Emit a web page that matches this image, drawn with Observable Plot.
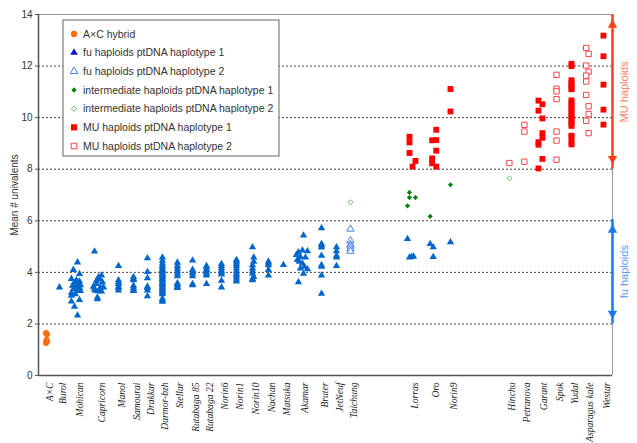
<!DOCTYPE html>
<html><head><meta charset="utf-8">
<script src="https://cdn.jsdelivr.net/npm/d3@7"></script>
<script src="https://cdn.jsdelivr.net/npm/@observablehq/plot@0.6"></script>
<style>body{margin:0;background:#fff} svg{display:block}</style>
</head><body><div id="chart"></div>
<script>
// ---- categories (x positions, in slot units) ----
const categories = ["A×C","Burol","Mohican","Capricorn","Manol","Samourai","Drakkar","Darmor-bzh","Stellar","Rutabaga 85","Rutabaga 22","Norin6","Norin1","Norin10","Nachan","Matsuka","Akamar","Bruter","JetNeuf","Taichung","Lorras","Oro","Norin9","Hinchu","Petranova","Garant","Spok","Yudal","Asparagus kale","Westar"];
const categoryPos = [0.52,1.37,2.48,3.92,5.23,6.21,7.12,8.10,9.08,10.07,10.98,11.96,12.94,13.99,15.03,16.01,17.25,18.50,19.48,20.39,24.38,25.80,26.93,30.78,31.76,32.81,33.86,34.84,35.88,36.93];
const yTicks = [0,2,4,6,8,10,12,14];
const muRange = [8.2, 13.8];
const fuRange = [2.2, 5.85];

// ---- series: [category, mean # univalents, x jitter] ----
const acHybrid = [["A×C",1.65,-0.03],["A×C",1.60,0.03],["A×C",1.38,0],["A×C",1.32,0.03],["A×C",1.26,-0.03]];
const fuHap1 = [
 ["Burol",3.42],
 ["Mohican",4.39,0.07],["Mohican",4.10,-0.2],["Mohican",3.94,0.2],["Mohican",3.75,-0.33],["Mohican",3.70,0],["Mohican",3.65,0.2],["Mohican",3.60,-0.13],["Mohican",3.55,0.13],["Mohican",3.50,0.26],["Mohican",3.48,-0.26],["Mohican",3.45,0],["Mohican",3.40,0.2],["Mohican",3.35,-0.2],["Mohican",3.30,0.07],["Mohican",3.28,0.26],["Mohican",3.20,-0.33],["Mohican",3.15,-0.07],["Mohican",3.10,-0.33],["Mohican",2.93,0.2],["Mohican",2.87,-0.33],["Mohican",2.67,-0.13],["Mohican",2.33,0.07],
 ["Capricorn",4.81,-0.26],["Capricorn",3.88,0.2],["Capricorn",3.81,0],["Capricorn",3.75,0.07],["Capricorn",3.68,-0.13],["Capricorn",3.62,0.26],["Capricorn",3.55,-0.13],["Capricorn",3.45,-0.33],["Capricorn",3.42,0.13],["Capricorn",3.42,0.33],["Capricorn",3.35,-0.26],["Capricorn",3.29,-0.2],["Capricorn",3.27,0],["Capricorn",3.26,0.2],["Capricorn",3.03,-0.07],["Capricorn",2.96,-0.07],
 ["Manol",4.25],["Manol",3.70],["Manol",3.62],["Manol",3.55],["Manol",3.45],["Manol",3.40],["Manol",3.30],
 ["Samourai",3.82],["Samourai",3.75],["Samourai",3.70],["Samourai",3.48],["Samourai",3.40],["Samourai",3.32],["Samourai",3.28],
 ["Drakkar",4.55],["Drakkar",4.02],["Drakkar",3.78],["Drakkar",3.45],["Drakkar",3.40],["Drakkar",3.30],["Drakkar",3.08],
 ["Darmor-bzh",4.58],["Darmor-bzh",4.45],["Darmor-bzh",4.35],["Darmor-bzh",4.25],["Darmor-bzh",4.18],["Darmor-bzh",4.10],["Darmor-bzh",4.05],["Darmor-bzh",4.00],["Darmor-bzh",3.95],["Darmor-bzh",3.90],["Darmor-bzh",3.85],["Darmor-bzh",3.80],["Darmor-bzh",3.75],["Darmor-bzh",3.70],["Darmor-bzh",3.65],["Darmor-bzh",3.60],["Darmor-bzh",3.55],["Darmor-bzh",3.50],["Darmor-bzh",3.45],["Darmor-bzh",3.40],["Darmor-bzh",3.35],["Darmor-bzh",3.30],["Darmor-bzh",3.25],["Darmor-bzh",3.20],["Darmor-bzh",3.15],["Darmor-bzh",2.98],["Darmor-bzh",2.92],["Darmor-bzh",2.86],
 ["Stellar",4.38],["Stellar",4.25],["Stellar",4.15],["Stellar",4.05],["Stellar",3.95],["Stellar",3.85],["Stellar",3.58],["Stellar",3.52],["Stellar",3.45],["Stellar",3.40],
 ["Rutabaga 85",4.46],["Rutabaga 85",4.10],["Rutabaga 85",4.02],["Rutabaga 85",3.95],["Rutabaga 85",3.85],["Rutabaga 85",3.55],["Rutabaga 85",3.50],
 ["Rutabaga 22",4.25],["Rutabaga 22",4.18],["Rutabaga 22",4.10],["Rutabaga 22",4.02],["Rutabaga 22",3.95],["Rutabaga 22",3.88],["Rutabaga 22",3.55],
 ["Norin6",4.33],["Norin6",4.25],["Norin6",4.15],["Norin6",4.07],["Norin6",4.00],["Norin6",3.92],["Norin6",3.68],["Norin6",3.42],
 ["Norin1",4.48],["Norin1",4.42],["Norin1",4.33],["Norin1",4.25],["Norin1",4.15],["Norin1",4.05],["Norin1",3.95],["Norin1",3.88],["Norin1",3.80],["Norin1",3.72],["Norin1",3.65],
 ["Norin10",4.98],["Norin10",4.58,0.08],["Norin10",4.42,0.08],["Norin10",4.28],["Norin10",4.15],["Norin10",4.05],["Norin10",3.95],["Norin10",3.82,0.08],["Norin10",3.75],["Norin10",3.70],
 ["Nachan",4.42],["Nachan",4.35],["Nachan",4.28],["Nachan",4.10],["Nachan",3.88],
 ["Matsuka",4.29],
 ["Akamar",5.43,0.07],["Akamar",4.78,-0.26],["Akamar",4.85,0],["Akamar",4.82,0.33],["Akamar",4.68,-0.39],["Akamar",4.60,-0.13],["Akamar",4.58,0.2],["Akamar",4.48,-0.33],["Akamar",4.42,-0.2],["Akamar",4.35,0],["Akamar",4.22,0.13],["Akamar",4.15,-0.13],["Akamar",4.12,0.33],["Akamar",3.95,0.07],["Akamar",3.62,-0.26],
 ["Bruter",5.71],["Bruter",5.10],["Bruter",5.04],["Bruter",4.97],["Bruter",4.65],["Bruter",4.28],["Bruter",4.22],["Bruter",3.88],["Bruter",3.17],
 ["JetNeuf",4.98],["JetNeuf",4.82],["JetNeuf",4.65],["JetNeuf",4.58],["JetNeuf",4.25],
 ["Lorras",5.30,-0.26],["Lorras",4.58,-0.13],["Lorras",4.60,0],["Lorras",4.62,0.13],
 ["Oro",5.10,-0.2],["Oro",4.98,0],["Oro",4.60,0],
 ["Norin9",5.17]
];
const fuHap2 = [["Taichung",5.68],["Taichung",5.23],["Taichung",5.08],["Taichung",5.02],["Taichung",4.92],["Taichung",4.82]];
const interHap1 = [["Lorras",7.10,-0.13],["Lorras",6.90,-0.13],["Lorras",6.90,0.26],["Lorras",6.58,-0.26],["Oro",6.17,-0.2],["Norin9",7.40]];
const interHap2 = [["Taichung",6.72],["Hinchu",7.65]];
const muHap1 = [
 ["Lorras",9.26,-0.13],["Lorras",9.04,-0.13],["Lorras",8.63,-0.13],["Lorras",8.32,0.26],["Lorras",8.10,0.07],
 ["Oro",9.53,0.2],["Oro",9.12,-0.07],["Oro",9.13,0.2],["Oro",8.72,0.2],["Oro",8.42,-0.07],["Oro",8.23,-0.07],["Oro",8.10,0.2],
 ["Norin9",11.11],["Norin9",10.24],
 ["Garant",10.66,-0.13],["Garant",10.52,0.13],["Garant",10.27,-0.13],["Garant",9.97,0.13],["Garant",9.40,0.13],["Garant",9.22,0.13],["Garant",9.05,-0.13],["Garant",8.95,-0.13],["Garant",8.40,0.13],["Garant",8.03,-0.13],
 ["Yudal",12.09],["Yudal",12.0],["Yudal",11.45],["Yudal",11.35],["Yudal",11.25],["Yudal",11.15],["Yudal",11.1],["Yudal",10.67],["Yudal",10.57],["Yudal",10.47],["Yudal",10.37],["Yudal",10.27],["Yudal",10.17],["Yudal",10.07],["Yudal",9.97],["Yudal",9.87],["Yudal",9.77],["Yudal",9.68],["Yudal",9.3],["Yudal",9.25],["Yudal",9.04],["Yudal",8.96],
 ["Westar",13.18],["Westar",12.38],["Westar",11.28],["Westar",10.31],["Westar",9.73]
];
const muHap2 = [
 ["Hinchu",8.24],
 ["Petranova",9.72],["Petranova",9.46],["Petranova",8.29],
 ["Spok",11.66],["Spok",11.12],["Spok",11.02],["Spok",10.72],["Spok",9.46],["Spok",9.11],["Spok",8.37],
 ["Asparagus kale",12.70,-0.08],["Asparagus kale",12.47,0.08],["Asparagus kale",12.02,-0.08],["Asparagus kale",11.78,0.08],["Asparagus kale",11.63,-0.08],["Asparagus kale",11.40,-0.08],["Asparagus kale",10.88,-0.08],["Asparagus kale",10.44,0.08],["Asparagus kale",10.14,0.08],["Asparagus kale",9.88,-0.08],["Asparagus kale",9.40,0.08]
];
const legendLabels = ["A×C hybrid","fu haploids ptDNA haplotype 1","fu haploids ptDNA haplotype 2","intermediate haploids ptDNA haplotype 1","intermediate haploids ptDNA haplotype 2","MU haploids ptDNA haplotype 1","MU haploids ptDNA haplotype 2"];

// ---- build ----
const rows = arr => arr.map(([c,y,dx]) => ({cat:c, y, x: categoryPos[categories.indexOf(c)] + (dx||0)}));
const catRows = categories.map((name,i) => ({name, x: categoryPos[i]}));
const xDomain = [0, 37.52];
const xMax = xDomain[1];

const styles = [
  {symbol:"circle", r:3, fill:"#ff6a0d", stroke:"none", d3sym:d3.symbolCircle, legendFill:"#ff6a0d"},
  {symbol:"triangle", r:2.7, fill:"#0066cc", stroke:"none", d3sym:d3.symbolTriangle, legendFill:"#1010c8"},
  {symbol:"triangle", r:2.7, fill:"white", stroke:"#4a7ff0", d3sym:d3.symbolTriangle, legendFill:"white"},
  {symbol:"diamond2", r:2.3, fill:"#008000", stroke:"none", d3sym:d3.symbolDiamond2, legendFill:"#008000"},
  {symbol:"diamond2", r:2.3, fill:"white", stroke:"#66bb66", d3sym:d3.symbolDiamond2, legendFill:"white"},
  {symbol:"square", r:3.3, fill:"#ff0000", stroke:"none", d3sym:d3.symbolSquare, legendFill:"#ff0000"},
  {symbol:"square", r:3.0, fill:"white", stroke:"#ff4444", d3sym:d3.symbolSquare, legendFill:"white"}
];
const series = [acHybrid, fuHap1, fuHap2, interHap1, interHap2, muHap1, muHap2];

const muColor = "#ff4010", muText = "#ff8060", fuColor = "#1a75ff", fuText = "#5a9bf0";

const plot = Plot.plot({
  width: 637, height: 443,
  marginLeft: 38, marginRight: 25, marginTop: 14, marginBottom: 68,
  style: {fontFamily: "'Liberation Sans', Arial, sans-serif", fontSize: "10px", color: "#333", background: "white"},
  x: {domain: xDomain, axis: null},
  y: {domain: [0, 14]},
  marks: [
    Plot.gridY(yTicks.filter(t => t > 0 && t < 14), {stroke: "#444", strokeOpacity: 1, strokeDasharray: "2,2"}),
    Plot.ruleY([14], {stroke: "#999"}),
    Plot.ruleX([xMax], {stroke: "#999"}),
    Plot.ruleY([0], {stroke: "#555", strokeWidth: 1.5}),
    Plot.ruleX([xDomain[0]], {stroke: "#555", strokeWidth: 1.5}),
    Plot.axisY({ticks: yTicks, tickSize: 3, tickPadding: 3, label: "Mean # univalents", labelAnchor: "center", labelArrow: "none", labelOffset: 28, stroke: "#555", fill: "#333"}),
    Plot.text(catRows, {x: "x", frameAnchor: "bottom", text: "name", rotate: -90, textAnchor: "end", lineAnchor: "middle", dx: 3, dy: 7, fontStyle: "italic", fontFamily: "'Liberation Serif', serif", fontSize: 9.6, fill: "#222"}),
    ...series.map((s, i) => Plot.dot(rows(s), {x: "x", y: "y", symbol: styles[i].symbol, r: styles[i].r, fill: styles[i].fill, stroke: styles[i].stroke, strokeWidth: 1})),
    // range arrows
    Plot.ruleX([xMax], {y1: muRange[0], y2: muRange[1], stroke: muColor, strokeWidth: 2.5, insetTop: 5, insetBottom: 5}),
    Plot.dot([muRange[1]], {x: () => xMax, y: d => d, symbol: "triangle", r: 3.5, fill: muColor, dy: 5.4}),
    Plot.dot([muRange[0]], {x: () => xMax, y: d => d, symbol: "triangle", r: 3.5, fill: muColor, rotate: 180, dy: -5.4}),
    Plot.text(["MU haploids"], {x: () => xMax, y: () => (muRange[0] + muRange[1]) / 2, text: d => d, rotate: -90, dx: 12, fill: muText, fontSize: 11}),
    Plot.ruleX([xMax], {y1: fuRange[0], y2: fuRange[1], stroke: fuColor, strokeWidth: 2.5, insetTop: 5, insetBottom: 5}),
    Plot.dot([fuRange[1]], {x: () => xMax, y: d => d, symbol: "triangle", r: 3.5, fill: fuColor, dy: 5.4}),
    Plot.dot([fuRange[0]], {x: () => xMax, y: d => d, symbol: "triangle", r: 3.5, fill: fuColor, rotate: 180, dy: -5.4}),
    Plot.text(["fu haploids"], {x: () => xMax, y: () => (fuRange[0] + fuRange[1]) / 2, text: d => d, rotate: -90, dx: 12, fill: fuText, fontSize: 11})
  ]
});
document.getElementById("chart").appendChild(plot);

// ---- legend box inside plot area ----
const svg = d3.select(plot);
const lg = svg.append("g").attr("transform", "translate(63,20)")
  .attr("text-anchor", "start").attr("font-family", "'Liberation Sans', Arial, sans-serif");
lg.append("rect").attr("width", 216).attr("height", 136).attr("fill", "white").attr("stroke", "#666");
legendLabels.forEach((lab, i) => {
  const yy = 14 + i * 18.67;
  const st = styles[i];
  lg.append("path")
    .attr("d", d3.symbol(st.d3sym, Math.PI * st.r * st.r * 1.1)())
    .attr("transform", `translate(11,${yy})`)
    .attr("fill", st.legendFill).attr("stroke", st.stroke);
  lg.append("text").attr("x", 20).attr("y", yy).attr("dy", "0.35em")
    .attr("text-anchor", "start")
    .attr("font-size", 10.5).attr("fill", "#333").text(lab);
});
</script></body></html>
